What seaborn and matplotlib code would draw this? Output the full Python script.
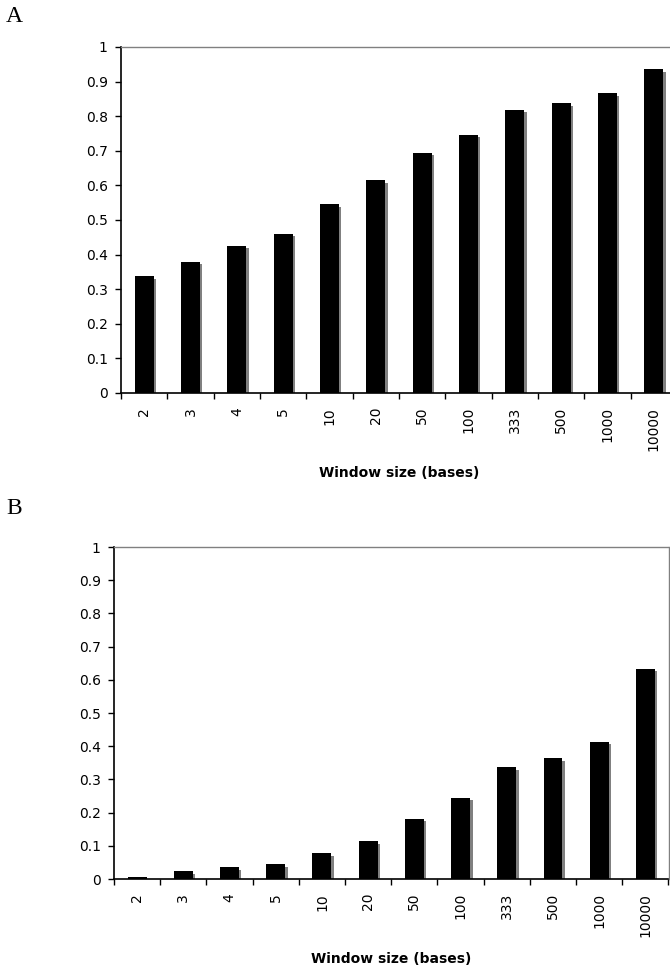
import numpy as np
import pandas as pd
import seaborn as sns
import matplotlib.pyplot as plt
from matplotlib.transforms import ScaledTranslation

# window sizes (categories) and the fraction values of the two panels
windows = ['2', '3', '4', '5', '10', '20', '50', '100', '333', '500', '1000', '10000']
values_a = [0.338, 0.379, 0.425, 0.460, 0.545, 0.615, 0.694, 0.746, 0.818, 0.838, 0.867, 0.936]
values_b = [0.006, 0.024, 0.036, 0.045, 0.078, 0.114, 0.181, 0.244, 0.337, 0.364, 0.413, 0.633]
panel_labels = ['A', 'B']
yticks = [0, 0.1, 0.2, 0.3, 0.4, 0.5, 0.6, 0.7, 0.8, 0.9, 1]
ytick_labels = ['0', '0.1', '0.2', '0.3', '0.4', '0.5', '0.6', '0.7', '0.8', '0.9', '1']

sns.set_style("white")
plt.rcParams['font.family'] = ['DejaVu Sans']
plt.rcParams['text.color'] = 'black'
plt.rcParams['axes.labelcolor'] = 'black'
plt.rcParams['xtick.color'] = 'black'
plt.rcParams['ytick.color'] = 'black'

W, H = 670, 971
fig = plt.figure(figsize=(W / 100, H / 100), dpi=100)

# axes boxes in pixels: left, right, top, bottom
boxes = [(121, 677, 47, 393), (114, 668.5, 547, 879)]
label_y = [17, 508]


def draw_panel(ax, vals):
    df = pd.DataFrame({'window': windows, 'value': vals})
    # gray shadow first, then the black bars on top
    sns.barplot(data=df, x='window', y='value', order=windows, color='#808080',
                saturation=1, width=0.41, linewidth=0, ax=ax)
    n_shadow = len(ax.patches)
    shift = ScaledTranslation(2.5 / 100, -2.5 / 100, fig.dpi_scale_trans)
    for p in ax.patches[:n_shadow]:
        p.set_transform(ax.transData + shift)
    sns.barplot(data=df, x='window', y='value', order=windows, color='black',
                saturation=1, width=0.41, linewidth=0, ax=ax)

    ax.set_xlim(-0.5, len(windows) - 0.5)
    ax.set_ylim(0, 1)
    ax.set_yticks(yticks)
    ax.set_yticklabels(ytick_labels, fontsize=10)
    ax.tick_params(axis='y', direction='out', length=4.5, width=1, pad=5,
                   color='black', left=True)
    ax.set_xticks(range(len(windows)))
    ax.set_xticklabels(windows, rotation=90, fontsize=10)
    ax.tick_params(axis='x', which='major', length=0, pad=10)
    ax.set_xticks(np.arange(-0.5, len(windows), 1), minor=True)
    ax.tick_params(axis='x', which='minor', direction='out', length=4, width=1,
                   color='black', bottom=True)
    ax.set_xlabel('Window size (bases)', fontsize=10, fontweight='bold', labelpad=11)
    ax.set_ylabel('')
    for side in ['left', 'bottom']:
        ax.spines[side].set_color('black')
        ax.spines[side].set_linewidth(1.2)
    for side in ['top', 'right']:
        ax.spines[side].set_color('#808080')
        ax.spines[side].set_linewidth(1)
        ax.spines[side].set_visible(True)
    ax.grid(False)


for (l, r, t, b), vals, lab, ly in zip(boxes, [values_a, values_b], panel_labels, label_y):
    ax = fig.add_axes([l / W, 1 - b / H, (r - l) / W, (b - t) / H])
    draw_panel(ax, vals)
    fig.text(6 / W, 1 - ly / H, lab, fontsize=17, family=['Liberation Serif'],
             ha='left', va='center')

fig.savefig('out.png', dpi=100)
